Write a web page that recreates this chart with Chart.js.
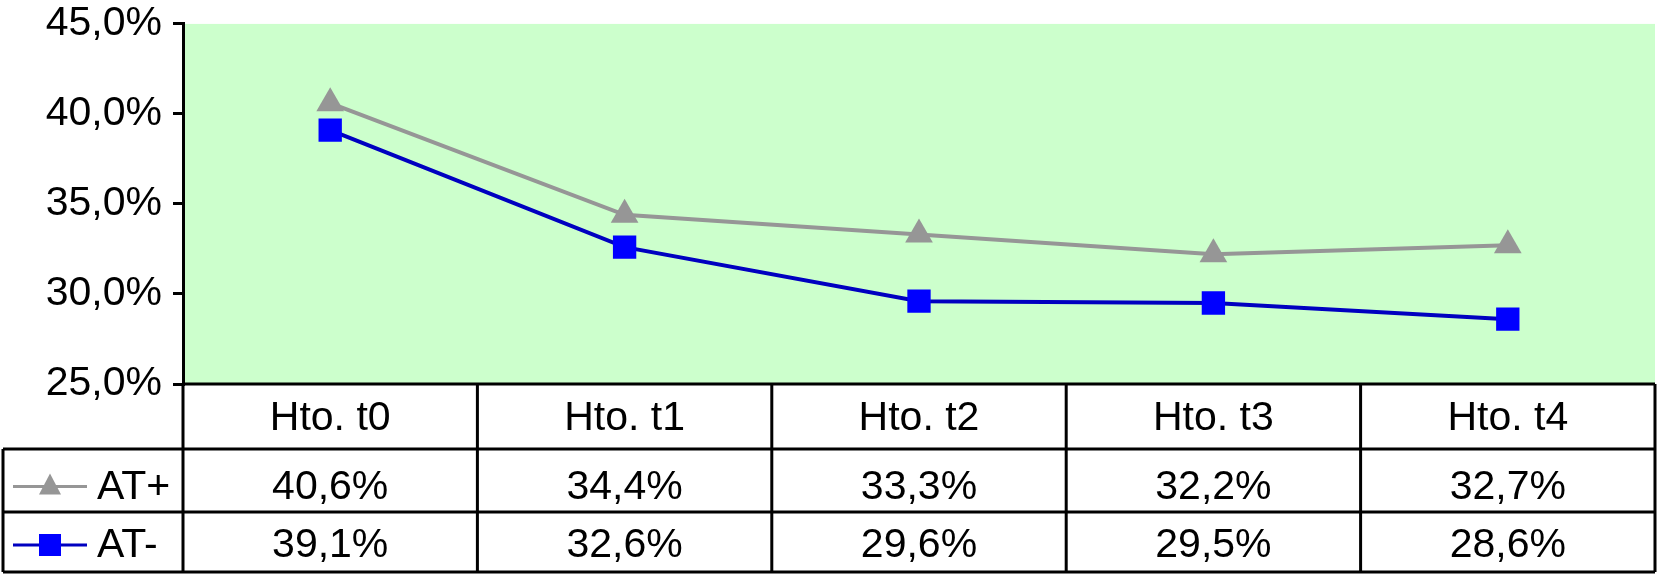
<!DOCTYPE html>
<html>
<head>
<meta charset="utf-8">
<script src="https://cdn.jsdelivr.net/npm/chart.js@4"></script>
<style>
html, body { margin: 0; padding: 0; background: #fff; overflow: hidden; }
#wrap { width: 1657px; height: 575px; }
canvas { display: block; }
</style>
</head>
<body>
<div id="wrap"><canvas id="chart"></canvas></div>
<script>
const categories = ['Hto. t0', 'Hto. t1', 'Hto. t2', 'Hto. t3', 'Hto. t4'];
const seriesNames = ['AT+', 'AT-'];
const atPlus = [40.6, 34.4, 33.3, 32.2, 32.7];
const atMinus = [39.1, 32.6, 29.6, 29.5, 28.6];
const yMin = 25;
const yMax = 45;
const yStep = 5;

const FONT = '"Liberation Sans", Arial, sans-serif';
const FONT_SIZE = 41;
const GRAY = '#969696';
const BLUE_LINE = '#0000c0';
const BLUE_FILL = '#0000ff';

function fmtPct(v) {
    return v.toFixed(1).replace('.', ',') + '%';
}

// green plot background
const plotBackground = {
    id: 'plotBackground',
    beforeDraw(chart) {
        const { ctx, chartArea } = chart;
        ctx.save();
        ctx.fillStyle = '#ccffcc';
        ctx.fillRect(chartArea.left, chartArea.top, chartArea.right - chartArea.left, chartArea.bottom - chartArea.top);
        ctx.restore();
    }
};

function drawKey(ctx, x, y, style, lineColor, fillColor) {
    ctx.save();
    ctx.strokeStyle = lineColor;
    ctx.lineWidth = 3;
    ctx.beginPath();
    ctx.moveTo(x - 37, y);
    ctx.lineTo(x + 37, y);
    ctx.stroke();
    ctx.fillStyle = fillColor;
    ctx.beginPath();
    if (style === 'triangle') {
        ctx.moveTo(x, y - 13);
        ctx.lineTo(x + 11, y + 8);
        ctx.lineTo(x - 11, y + 8);
        ctx.closePath();
    } else {
        ctx.rect(x - 11, y - 11, 22, 22);
    }
    ctx.fill();
    ctx.restore();
}

// data table under the plot
const dataTable = {
    id: 'dataTable',
    afterDraw(chart) {
        const { ctx, chartArea } = chart;
        const xScale = chart.scales.x;
        const left = chartArea.left;
        const right = chartArea.right;
        const colW = (right - left) / categories.length;
        const top = chartArea.bottom;
        const rowLines = [top, top + 65, top + 128, top + 188];
        const tableLeft = 3;

        ctx.save();
        ctx.strokeStyle = '#000';
        ctx.lineWidth = 3;
        ctx.beginPath();
        ctx.moveTo(left, rowLines[0]);
        ctx.lineTo(right, rowLines[0]);
        for (let i = 1; i < rowLines.length; i++) {
            ctx.moveTo(tableLeft, rowLines[i]);
            ctx.lineTo(right, rowLines[i]);
        }
        for (let c = 0; c <= categories.length; c++) {
            const x = left + c * colW;
            ctx.moveTo(x, rowLines[0]);
            ctx.lineTo(x, rowLines[3]);
        }
        ctx.moveTo(tableLeft, rowLines[1]);
        ctx.lineTo(tableLeft, rowLines[3]);
        ctx.stroke();

        ctx.fillStyle = '#000';
        ctx.font = FONT_SIZE + 'px ' + FONT;
        ctx.textAlign = 'center';
        ctx.textBaseline = 'middle';
        const yHead = (rowLines[0] + rowLines[1]) / 2 + 2;
        const yPlus = (rowLines[1] + rowLines[2]) / 2 + 7;
        const yMinus = (rowLines[2] + rowLines[3]) / 2 + 4;
        categories.forEach((c, i) => {
            const x = xScale.getPixelForValue(i);
            ctx.fillText(c, x, yHead);
            ctx.fillText(fmtPct(atPlus[i]), x, yPlus);
            ctx.fillText(fmtPct(atMinus[i]), x, yMinus);
        });

        drawKey(ctx, 50, yPlus - 1, 'triangle', GRAY, GRAY);
        drawKey(ctx, 50, yMinus - 1, 'rect', BLUE_LINE, BLUE_FILL);
        ctx.textAlign = 'left';
        ctx.fillText(seriesNames[0], 97, yPlus);
        ctx.fillText(seriesNames[1], 97, yMinus);
        ctx.restore();
    }
};

new Chart(document.getElementById('chart'), {
    type: 'line',
    data: {
        labels: categories,
        datasets: [
            {
                label: seriesNames[0],
                data: atPlus,
                borderColor: GRAY,
                backgroundColor: GRAY,
                borderWidth: 4,
                pointStyle: 'triangle',
                pointRadius: 16,
                pointBorderWidth: 0,
                tension: 0
            },
            {
                label: seriesNames[1],
                data: atMinus,
                borderColor: BLUE_LINE,
                backgroundColor: BLUE_FILL,
                pointBorderColor: BLUE_FILL,
                borderWidth: 4,
                pointStyle: 'rect',
                pointRadius: 16.5,
                pointBorderWidth: 0,
                tension: 0
            }
        ]
    },
    options: {
        responsive: true,
        maintainAspectRatio: false,
        animation: false,
        layout: { autoPadding: false, padding: { left: 0, right: 2, top: 0, bottom: 191 } },
        plugins: {
            legend: { display: false },
            tooltip: { enabled: false }
        },
        scales: {
            x: {
                type: 'category',
                offset: true,
                display: false
            },
            y: {
                min: yMin,
                max: yMax,
                afterFit(scale) { scale.width = 183; },
                ticks: {
                    stepSize: yStep,
                    color: '#000',
                    padding: 11,
                    font: { family: FONT, size: FONT_SIZE, lineHeight: 0.63 },
                    callback: v => fmtPct(v)
                },
                grid: {
                    drawOnChartArea: false,
                    drawTicks: true,
                    tickLength: 10,
                    color: '#000',
                    lineWidth: 3
                },
                border: { display: true, color: '#000', width: 3 }
            }
        }
    },
    plugins: [plotBackground, dataTable]
});
</script>
</body>
</html>
